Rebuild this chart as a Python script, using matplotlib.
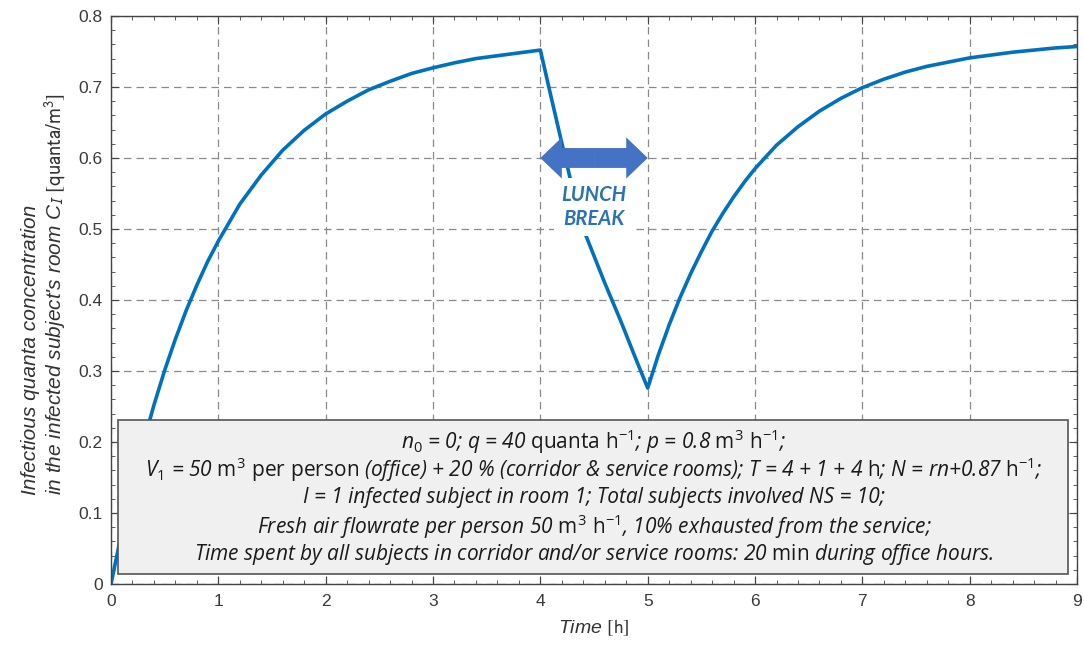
import numpy as np
import matplotlib.pyplot as plt
from matplotlib.patches import Rectangle, FancyArrow
from matplotlib.ticker import MultipleLocator

# %%
# values
t_work1 = [0.0, 0.1, 0.2, 0.3, 0.4, 0.5, 0.6, 0.7, 0.8, 0.9, 1.0,
           1.2, 1.4, 1.6, 1.8, 2.0, 2.2, 2.4, 2.6, 2.8, 3.0, 3.2, 3.4, 3.6, 3.8, 4.0]
c_work1 = [0.0, 0.073, 0.139, 0.198, 0.252, 0.301, 0.345, 0.385, 0.421, 0.454, 0.483,
           0.535, 0.576, 0.611, 0.639, 0.662, 0.680, 0.696, 0.708, 0.719, 0.727, 0.734,
           0.740, 0.744, 0.748, 0.752]
t_lunch = [4.0, 4.1, 4.2, 4.3, 4.4, 4.5, 4.6, 4.75, 4.9, 5.0]
c_lunch = [0.752, 0.686, 0.621, 0.557, 0.500, 0.462, 0.424, 0.370, 0.313, 0.276]
t_work2 = [5.0, 5.1, 5.2, 5.3, 5.4, 5.5, 5.6, 5.7, 5.8, 5.9, 6.0,
           6.2, 6.4, 6.6, 6.8, 7.0, 7.2, 7.4, 7.6, 7.8, 8.0, 8.2, 8.4, 8.6, 8.8, 9.0]
c_work2 = [0.276, 0.323, 0.365, 0.403, 0.437, 0.468, 0.497, 0.522, 0.545, 0.566, 0.585,
           0.618, 0.644, 0.666, 0.684, 0.699, 0.711, 0.721, 0.729, 0.735, 0.741, 0.745,
           0.749, 0.752, 0.755, 0.757]

x_ticks = list(range(10))
y_ticks = [0, 0.1, 0.2, 0.3, 0.4, 0.5, 0.6, 0.7, 0.8]
y_ticklabels = ['0', '0.1', '0.2', '0.3', '0.4', '0.5', '0.6', '0.7', '0.8']

lunch_start, lunch_end = 4, 5

info_lines = [
    r"n$_0$ = 0; q = 40 $\mathrm{quanta\ h^{-1}}$; p = 0.8 $\mathrm{m^3\ h^{-1}}$;",
    r"V$_1$ = 50 $\mathrm{m^3\ per\ person}$ (office) + 20 % (corridor & service rooms); "
    r"T = 4 + 1 + 4 $\mathrm{h}$; N = rn+0.87 $\mathrm{h^{-1}}$;",
    "I = 1 infected subject in room 1; Total subjects involved NS = 10;",
    r"Fresh air flowrate per person 50 $\mathrm{m^3\ h^{-1}}$, 10% exhausted from the service;",
    r"Time spent by all subjects in corridor and/or service rooms: 20 $\mathrm{min}$ during office hours.",
]

# %%
plt.rcParams['font.family'] = ['Liberation Sans', 'DejaVu Sans']
plt.rcParams['mathtext.fontset'] = 'custom'
plt.rcParams['mathtext.rm'] = 'Open Sans'
plt.rcParams['mathtext.it'] = 'Open Sans:italic'

fig = plt.figure(figsize=(10.84, 6.47), dpi=100)
ax = fig.add_axes([0.1024, 0.0974, 0.8912, 0.8779])

t = t_work1 + t_lunch[1:] + t_work2[1:]
c = c_work1 + c_lunch[1:] + c_work2[1:]
ax.plot(t, c, color='#0072BD', lw=2.6, zorder=2)

ax.set_xlim(0, 9)
ax.set_ylim(0, 0.8)
ax.set_xticks(x_ticks)
ax.set_yticks(y_ticks)
ax.set_yticklabels(y_ticklabels)
ax.xaxis.set_minor_locator(MultipleLocator(0.2))
ax.yaxis.set_minor_locator(MultipleLocator(0.02))
ax.tick_params(which='both', direction='in', top=True, right=True,
               colors='#444444', labelcolor='#3a3a3a', labelsize=12.5)
ax.tick_params(which='major', length=6)
ax.tick_params(axis='y', which='major', pad=6)
ax.tick_params(axis='x', which='major', pad=7)
ax.tick_params(which='minor', length=3)
for s in ax.spines.values():
    s.set_color('#444444')
    s.set_linewidth(1.0)
ax.grid(True, which='major', ls=(0, (6, 4)), color='#8a8a8a', lw=0.9, zorder=1)
ax.set_axisbelow(True)

# lunch break arrow and label
mid = (lunch_start + lunch_end) / 2
for end in (lunch_start, lunch_end):
    ax.add_patch(FancyArrow(mid, 0.6, end - mid, 0, width=0.028, head_width=0.058,
                            head_length=0.2, length_includes_head=True,
                            color='#4472C4', lw=0, zorder=5))
ax.text(mid, 0.531, "LUNCH\nBREAK", ha='center', va='center', color='#2A72B5',
        fontsize=14.5, fontweight='bold', fontstyle='italic', family='Lato',
        linespacing=1.2, zorder=4,
        bbox=dict(boxstyle='square,pad=0.35', fc='white', ec='none'))

# parameter box
ax.add_patch(Rectangle((0.007, 0.018), 0.984, 0.271, transform=ax.transAxes,
                       fc='#f0f0f0', ec='#555555', lw=1.2, zorder=6))
line_py = [442, 470, 498, 527, 555]
for txt, py in zip(info_lines, line_py):
    ax.text(0.5, (584 - py) / 568, txt, transform=ax.transAxes, ha='center', va='center',
            fontsize=15, fontstyle='italic', family='Open Sans', color='#1a1a1a', zorder=7)

ax.set_xlabel(r"Time $\mathrm{[h]}$", fontstyle='italic', fontsize=14, color='#333333',
              math_fontfamily='stixsans', labelpad=6)
fig.text(0.041, 1 - 495 / 647, "Infectious quanta concentration\n"
         r"in the infected subject's room C$_I$ $\mathrm{[quanta/m^3]}$",
         rotation=90, ha='center', va='bottom', multialignment='left',
         fontstyle='italic', fontsize=15, color='#333333',
         math_fontfamily='stixsans', linespacing=1.15)

fig.savefig('out.png', dpi=100)
